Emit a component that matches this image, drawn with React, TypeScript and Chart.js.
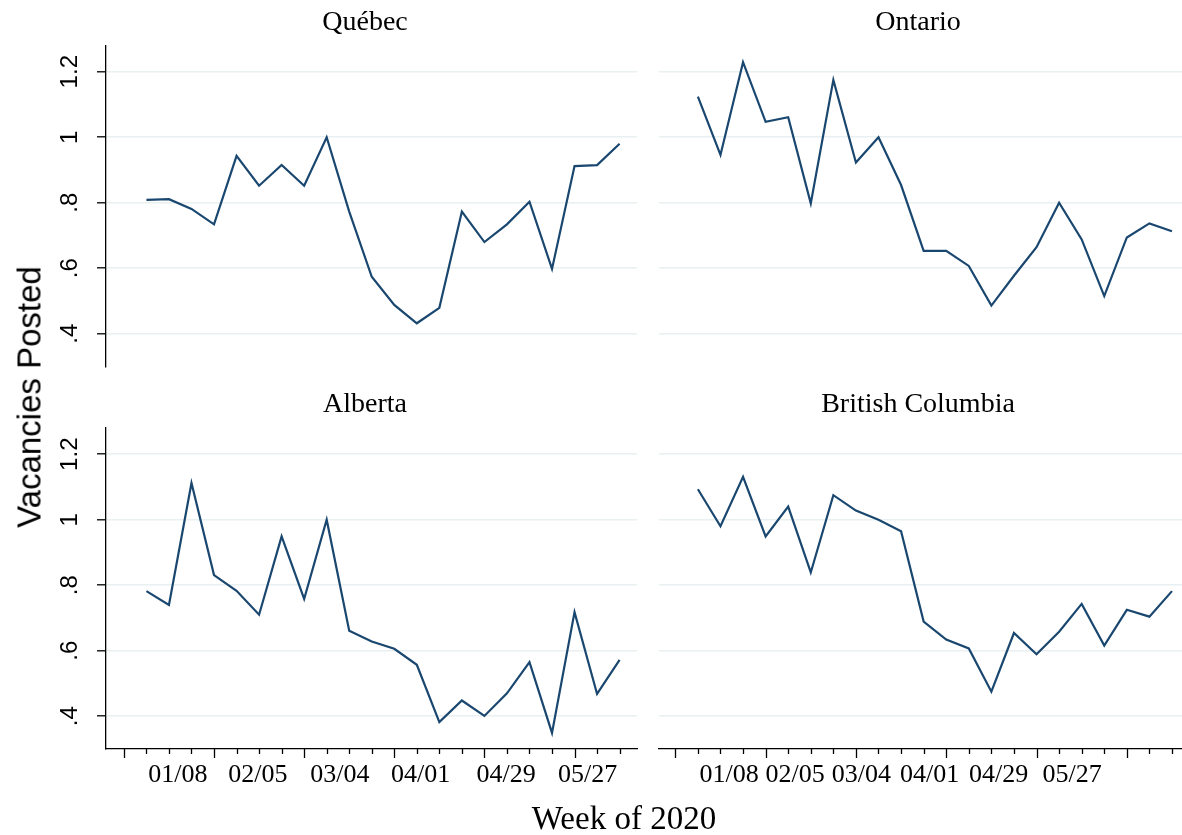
import React, { useEffect, useRef } from 'react';
import { Chart, registerables } from 'chart.js';

Chart.register(...registerables);

// ---- data ----
const weekIndex = [0, 1, 2, 3, 4, 5, 6, 7, 8, 9, 10, 11, 12, 13, 14, 15, 16, 17, 18, 19, 20, 21];
const quebec = [0.809, 0.811, 0.781, 0.734, 0.943, 0.852, 0.915, 0.852, 1.0, 0.773, 0.574, 0.488, 0.432, 0.479, 0.773, 0.68, 0.734, 0.803, 0.598, 0.912, 0.915, 0.98];
const ontario = [1.124, 0.946, 1.229, 1.047, 1.061, 0.798, 1.175, 0.923, 1.0, 0.854, 0.653, 0.653, 0.607, 0.486, 0.577, 0.664, 0.8, 0.688, 0.515, 0.694, 0.737, 0.713];
const alberta = [0.782, 0.74, 1.112, 0.831, 0.783, 0.71, 0.949, 0.758, 1.0, 0.661, 0.628, 0.606, 0.557, 0.382, 0.448, 0.401, 0.47, 0.565, 0.349, 0.718, 0.468, 0.572];
const britishColumbia = [1.093, 0.98, 1.131, 0.949, 1.04, 0.839, 1.075, 1.028, 1.0, 0.965, 0.689, 0.634, 0.607, 0.475, 0.654, 0.589, 0.658, 0.743, 0.616, 0.725, 0.704, 0.782];

const yTicks = [0.4, 0.6, 0.8, 1.0, 1.2];
const yTickLabels = ['.4', '.6', '.8', '1', '1.2'];
const xTickMarks = [-1, 0, 1, 2, 3, 4, 5, 6, 7, 8, 9, 10, 11, 12, 13, 14, 15, 16, 17, 18, 19, 20, 21];
const xMajorTicks = [-1, 3, 7, 11, 15, 19];
const xTickLabels = ['01/08', '02/05', '03/04', '04/01', '04/29', '05/27'];
const xLabelPosLeft = [1.4, 4.95, 8.59, 12.17, 15.96, 19.58];
const xLabelPosRight = [1.38, 4.31, 7.24, 10.26, 13.32, 16.58];

const LINE = '#1a476f';
const GRID = '#e8f0f2';
const SERIF = '"Liberation Serif", "Times New Roman", serif';
const SANS = '"Liberation Sans", Arial, sans-serif';

const stataAxes = {
  id: 'stataAxes',
  afterDraw(chart: any, _args: any, opts: any) {
    const ctx = chart.ctx;
    const xs = chart.scales.x;
    const ys = chart.scales.y;
    const area = chart.chartArea;
    ctx.save();
    if (opts.yLabels) {
      ctx.fillStyle = '#000';
      ctx.font = `24px ${SANS}`;
      ctx.textAlign = 'center';
      ctx.textBaseline = 'middle';
      yTicks.forEach((v, i) => {
        const py = ys.getPixelForValue(v);
        ctx.save();
        ctx.translate(opts.yLabelX, py);
        ctx.rotate(-Math.PI / 2);
        ctx.fillText(yTickLabels[i], 0, 0);
        ctx.restore();
      });
    }
    if (opts.xAxis) {
      ctx.strokeStyle = '#000';
      ctx.lineWidth = 1.3;
      xTickMarks.forEach((v) => {
        const px = Math.round(xs.getPixelForValue(v)) + 0.5;
        const len = xMajorTicks.includes(v) ? 9 : 5;
        ctx.beginPath();
        ctx.moveTo(px, area.bottom);
        ctx.lineTo(px, area.bottom + len);
        ctx.stroke();
      });
      ctx.fillStyle = '#000';
      ctx.font = `26px ${SERIF}`;
      ctx.textAlign = 'center';
      ctx.textBaseline = 'middle';
      opts.labelPos.forEach((p: number, i: number) => {
        ctx.fillText(xTickLabels[i], xs.getPixelForValue(p), area.bottom + 26);
      });
    }
    ctx.restore();
  },
};

type PanelProps = {
  title: string;
  values: number[];
  left: number;
  top: number;
  width: number;
  height: number;
  isLeft: boolean;
  isBottom: boolean;
};

function Panel({ title, values, left, top, width, height, isLeft, isBottom }: PanelProps) {
  const ref = useRef<HTMLCanvasElement | null>(null);
  useEffect(() => {
    if (!ref.current) return;
    const xMin = isLeft ? -1.794 : -1.723;
    const xMax = isLeft ? 21.772 : 21.444;
    const padLeft = isLeft ? 93 : 14;
    const yWidth = isLeft ? 13 : 5;
    const padRight = isLeft ? 3 : 0;
    const titlePad = isBottom ? { top: 13.2, bottom: 6.2 } : { top: 6, bottom: 5.9 };
    const padBottom = isBottom ? 66 : 3.5;
    const chart = new Chart(ref.current, {
      type: 'line',
      data: {
        datasets: [
          {
            data: values.map((v, i) => ({ x: weekIndex[i], y: v })),
            borderColor: LINE,
            borderWidth: 2.2,
            pointRadius: 0,
            tension: 0,
            fill: false,
          },
        ],
      },
      options: {
        animation: false,
        responsive: false,
        devicePixelRatio: 1,
        layout: { padding: { left: padLeft, right: padRight, top: 0, bottom: padBottom } },
        plugins: {
          legend: { display: false },
          tooltip: { enabled: false },
          title: {
            display: true,
            text: title,
            color: '#000',
            font: { family: SERIF, size: 28, weight: 'normal', lineHeight: 1.2 },
            padding: titlePad,
          },
          stataAxes: {
            yLabels: isLeft,
            yLabelX: 70,
            xAxis: isBottom,
            labelPos: isLeft ? xLabelPosLeft : xLabelPosRight,
          },
        } as any,
        scales: {
          x: {
            type: 'linear',
            display: isBottom,
            min: xMin,
            max: xMax,
            grid: { display: false },
            border: { display: true, color: '#000', width: 1.3 },
            ticks: { display: false },
            afterFit: (s: any) => {
              s.height = isBottom ? 20 : 0;
            },
          },
          y: {
            type: 'linear',
            min: 0.3,
            max: 1.28,
            afterBuildTicks: (s: any) => {
              s.ticks = yTicks.map((v) => ({ value: v }));
            },
            afterFit: (s: any) => {
              s.width = yWidth;
            },
            ticks: { display: false },
            grid: {
              color: GRID,
              lineWidth: 1.6,
              drawTicks: isLeft,
              tickLength: 9,
              tickColor: '#000',
              tickWidth: 1.3,
            },
            border: { display: isLeft, color: '#000', width: 1.3 },
          },
        },
      } as any,
      plugins: [stataAxes],
    });
    return () => chart.destroy();
  }, [title, values, isLeft, isBottom]);
  return (
    <canvas
      ref={ref}
      width={width}
      height={height}
      style={{ position: 'absolute', left, top, width, height }}
    />
  );
}

export default function App() {
  return (
    <div
      style={{
        position: 'fixed',
        left: 0,
        top: 0,
        width: 1182,
        height: 835,
        overflow: 'hidden',
        background: '#fff',
      }}
    >
      <Panel title="Québec" values={quebec} left={0} top={0} width={640} height={370} isLeft={true} isBottom={false} />
      <Panel title="Ontario" values={ontario} left={640} top={0} width={542} height={370} isLeft={false} isBottom={false} />
      <Panel title="Alberta" values={alberta} left={0} top={375} width={640} height={460} isLeft={true} isBottom={true} />
      <Panel title="British Columbia" values={britishColumbia} left={640} top={375} width={542} height={460} isLeft={false} isBottom={true} />
      <div
        style={{
          position: 'absolute',
          left: 29,
          top: 397,
          transform: 'translate(-50%, -50%) rotate(-90deg)',
          whiteSpace: 'nowrap',
          fontFamily: SANS,
          fontSize: 33,
          lineHeight: 1,
          color: '#000',
        }}
      >
        Vacancies Posted
      </div>
      <div
        style={{
          position: 'absolute',
          left: 624,
          top: 818,
          transform: 'translate(-50%, -50%)',
          whiteSpace: 'nowrap',
          fontFamily: SERIF,
          fontSize: 33,
          lineHeight: 1,
          color: '#000',
        }}
      >
        Week of 2020
      </div>
    </div>
  );
}
